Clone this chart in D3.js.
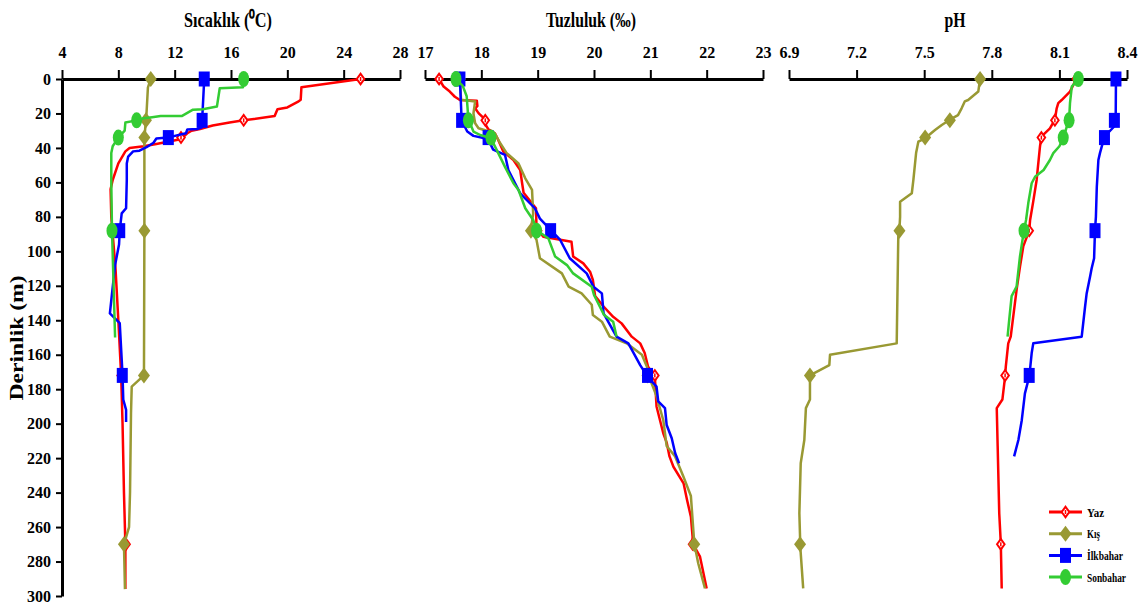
<!DOCTYPE html>
<html>
<head>
<meta charset="utf-8">
<script src="https://cdn.jsdelivr.net/npm/d3@7"></script>
<style>
  html, body { margin: 0; padding: 0; background: #fff; }
  svg { display: block; }
  text { font-family: "Liberation Serif", "Times New Roman", serif; font-weight: bold; fill: #000; }
</style>
</head>
<body>
<svg id="chart" width="1146" height="608"></svg>
<script>
// Depth profiles: each point is [depth (m), value]
const depthTicks = [0, 20, 40, 60, 80, 100, 120, 140, 160, 180, 200, 220, 240, 260, 280, 300];
const tempTicks = [4, 8, 12, 16, 20, 24, 28];
const salTicks = [17, 18, 19, 20, 21, 22, 23];
const phTicks = [6.9, 7.2, 7.5, 7.8, 8.1, 8.4];
const seasons = ["Yaz", "Kış", "İlkbahar", "Sonbahar"];
const sampleDepths = [0, 24, 34, 88, 172, 270];

// Temperature (°C)
const tempYaz = [[0,25.2],[4.8,21.0],[12,20.95],[13,20.8],[16.5,20.0],[17.5,19.3],[21.5,19.1],[24,16.9],[25.3,15.9],[27,14.7],[29,13.8],[30,13.2],[31.5,12.9],[35,12.4],[37.7,10.7],[39,9.8],[40,8.8],[42,8.5],[49,8.0],[58.6,7.6],[64,7.45],[80,7.5],[110,7.8],[140,8.0],[172,8.2],[200,8.3],[240,8.4],[270,8.5],[296,8.5]];
const tempKis = [[0,10.3],[5,10.1],[20,10.0],[24,9.96],[34,9.85],[88,9.85],[172,9.82],[178.5,8.95],[194,8.9],[240,8.83],[260,8.76],[270,8.4],[296,8.47]];
const tempIlkbahar = [[0,14.1],[24,13.95],[28,13.95],[29,13.6],[29.3,12.9],[31.5,12.8],[34,11.5],[34.5,10.7],[37,10.5],[39.6,10.0],[41.6,9.5],[42,9.05],[45,8.7],[49,8.6],[58.6,8.6],[75,8.55],[78,8.24],[88,8.1],[96,8.05],[108,7.77],[136,7.4],[141.6,8.1],[172,8.3],[186,8.35],[192,8.55],[199,8.55]];
const tempSonbahar = [[0,16.9],[4.8,16.85],[5.4,15.2],[16,15.0],[17.5,14.0],[17.8,13.3],[21.5,12.5],[21.5,11.0],[22.2,10.4],[22.8,9.8],[24,9.3],[25.3,8.5],[30,8.45],[34,8.0],[36.5,7.8],[39,7.6],[43,7.5],[60,7.5],[88,7.55],[150,7.77]];
const tempYazMarks = [25.2, 16.9, 12.45, 7.65, 8.2, 8.55];
const tempKisMarks = [10.3, 9.96, 9.85, 9.85, 9.82, 8.4];
const tempIlkbaharMarks = [14.1, 13.95, 11.55, 8.1, 8.28];
const tempSonbaharMarks = [16.9, 9.3, 8.0, 7.55];

// Salinity (‰)
const salYaz = [[0,17.25],[4.4,17.33],[7.3,17.44],[10.3,17.53],[12.2,17.62],[12.6,17.92],[15.7,17.93],[17,17.89],[19.8,17.95],[23.6,18.07],[26.7,18.08],[29,18.12],[31.5,18.24],[35.4,18.3],[42,18.39],[47,18.57],[52.8,18.69],[59.6,18.72],[66,18.75],[75,18.97],[86.5,18.98],[91.5,19.1],[94.4,19.6],[103,19.63],[107,19.81],[111.8,19.93],[116.6,19.98],[126,20.02],[132,20.17],[138,20.34],[141.8,20.49],[149.5,20.67],[153.4,20.82],[159,20.9],[167,20.96],[172.7,21.08],[190,21.11],[205.6,21.23],[211,21.29],[219,21.34],[225,21.41],[234.6,21.59],[244,21.65],[254,21.72],[265.6,21.75],[269.5,21.75],[277,21.88],[295.6,22.0]];
const salKis = [[0,17.62],[12,17.64],[13,17.89],[20,17.86],[25.7,17.89],[28.6,17.95],[31.5,18.24],[37,18.33],[43,18.45],[49,18.66],[57.6,18.78],[64.4,18.9],[78,18.92],[87.6,18.88],[93.4,18.98],[104,19.04],[112.8,19.43],[120.5,19.55],[124.4,19.78],[131,19.96],[137,19.98],[140.8,20.14],[149.5,20.28],[153.4,20.58],[160,20.85],[167,20.94],[174.7,21.0],[184,21.11],[198,21.23],[213,21.29],[219,21.44],[231,21.59],[242,21.72],[269.5,21.78],[281,21.85],[295.6,21.97]];
const salIlkbahar = [[0,17.62],[24,17.65],[30.5,17.75],[33,17.86],[34,18.0],[35,18.12],[41,18.21],[44,18.42],[52.8,18.48],[58.6,18.57],[66.3,18.69],[75,18.95],[81,19.04],[87.6,19.23],[93.4,19.4],[104,19.57],[112.8,19.87],[120.5,19.99],[124.4,20.14],[136,20.17],[149.5,20.4],[153.4,20.61],[166,20.82],[172.7,20.95],[178.5,21.11],[187,21.14],[191,21.26],[200.8,21.29],[208.5,21.38],[217,21.44],[223,21.51]];
const salSonbahar = [[0,17.55],[4,17.67],[10,17.74],[23.4,17.77],[30.5,17.86],[32.5,17.98],[34.4,18.17],[41,18.27],[51,18.42],[60.5,18.57],[64.4,18.66],[75,18.78],[81.8,18.92],[87.6,18.98],[92.5,19.19],[103,19.31],[108,19.52],[112.8,19.63],[120.5,19.96],[125.3,20.0],[137,20.18],[140.8,20.34],[149.5,20.4]];
const salYazMarks = [17.25, 18.07, 18.18, 19.0, 21.08, 21.75];
const salKisMarks = [17.62, 17.78, 18.15, 18.88, 20.95, 21.78];
const salIlkbaharMarks = [17.62, 17.65, 18.12, 19.23, 20.95];
const salSonbaharMarks = [17.55, 17.77, 18.17, 18.98];

// pH
const phYaz = [[0,8.175],[7.3,8.147],[12.2,8.11],[14,8.095],[17,8.088],[23.6,8.08],[28.6,8.058],[33.4,8.02],[39,8.014],[58.6,7.999],[71,7.984],[81.8,7.97],[88,7.966],[97,7.94],[109,7.925],[122.4,7.91],[149.5,7.884],[153.4,7.873],[167,7.862],[172.7,7.859],[186,7.847],[191,7.822],[213,7.826],[252,7.833],[269.5,7.84],[295.6,7.844]];
const phKis = [[0,7.748],[7.3,7.74],[12.2,7.695],[13,7.68],[17,7.666],[21,7.65],[23.6,7.614],[26.7,7.578],[29.6,7.548],[34.4,7.504],[36.4,7.474],[43,7.464],[58.6,7.452],[66.3,7.445],[71.2,7.393],[80,7.393],[87.6,7.39],[91.5,7.385],[153.4,7.378],[160,7.082],[166,7.079],[172,6.993],[186,6.993],[191,6.975],[209.5,6.968],[223,6.952],[252,6.946],[265.6,6.949],[269.5,6.949],[295.6,6.963]];
const phIlkbahar = [[0,8.351],[20,8.35],[23.6,8.344],[28,8.34],[33.4,8.30],[43,8.28],[47,8.273],[62.5,8.266],[80,8.262],[87.6,8.258],[104,8.254],[110,8.243],[114.7,8.236],[124.4,8.221],[132,8.214],[149.5,8.199],[153.4,7.984],[159,7.977],[168,7.97],[172.7,7.966],[182.4,7.947],[198,7.933],[209.5,7.918],[219,7.899]];
const phSonbahar = [[0,8.184],[4.4,8.155],[14,8.147],[23.6,8.143],[28,8.132],[34.4,8.117],[39,8.1],[43,8.073],[47,8.058],[52.8,8.03],[56.7,7.992],[60.5,7.977],[72,7.962],[81.8,7.952],[87.6,7.943],[103,7.925],[120.5,7.91],[126,7.888],[140,7.877],[149.5,7.87]];
const phYazMarks = [8.175, 8.08, 8.02, 7.966, 7.859, 7.84];
const phKisMarks = [7.748, 7.614, 7.504, 7.39, 6.993, 6.949];
const phIlkbaharMarks = [8.351, 8.344, 8.30, 8.258, 7.966];
const phSonbaharMarks = [8.184, 8.143, 8.117, 7.943];

const colors = { "Yaz": "#ff0000", "Kış": "#999933", "İlkbahar": "#0000ff", "Sonbahar": "#33cc33" };

const svg = d3.select("#chart");

const y = d3.scaleLinear().domain([0, 300]).range([79, 596]);

const panels = [
  { title: "Sıcaklık (⁰C)", titleLen: 88, domain: [4, 28], range: [62, 400], ticks: tempTicks, fmt: d3.format("d"),
    lines: [tempYaz, tempKis, tempIlkbahar, tempSonbahar],
    marks: [tempYazMarks, tempKisMarks, tempIlkbaharMarks, tempSonbaharMarks] },
  { title: "Tuzluluk (‰)", titleLen: 90, domain: [17, 23], range: [425, 763], ticks: salTicks, fmt: d3.format("d"),
    lines: [salYaz, salKis, salIlkbahar, salSonbahar],
    marks: [salYazMarks, salKisMarks, salIlkbaharMarks, salSonbaharMarks] },
  { title: "pH", titleLen: 21, domain: [6.9, 8.4], range: [789, 1127], ticks: phTicks, fmt: d3.format(".1f"),
    lines: [phYaz, phKis, phIlkbahar, phSonbahar],
    marks: [phYazMarks, phKisMarks, phIlkbaharMarks, phSonbaharMarks] }
];

// Marker shapes, centred on (0,0)
const MW = 12, MH = 16;
function drawMarker(g, season) {
  const c = colors[season];
  if (season === "Yaz") {
    g.append("path").attr("d", `M0,${-MH/2+1}L${MW/2-1},0L0,${MH/2-1}L${-MW/2+1},0Z`).attr("fill", c);
    g.append("path").attr("d", `M0,${-MH/4.5}L${MW/4.5},0L0,${MH/4.5}L${-MW/4.5},0Z`).attr("fill", "#fff");
    g.append("rect").attr("x", -0.75).attr("y", -2).attr("width", 1.5).attr("height", 4).attr("fill", c);
  } else if (season === "Kış") {
    g.append("path").attr("d", `M0,${-MH/2}L${MW/2},0L0,${MH/2}L${-MW/2},0Z`).attr("fill", c);
  } else if (season === "İlkbahar") {
    g.append("rect").attr("x", -MW/2 + 0.5).attr("y", -MH/2 + 0.5).attr("width", MW - 1).attr("height", MH - 1).attr("fill", c);
  } else {
    g.append("ellipse").attr("rx", MW/2 - 0.5).attr("ry", MH/2).attr("fill", c);
  }
}

panels.forEach(p => {
  const x = d3.scaleLinear().domain(p.domain).range(p.range);
  const g = svg.append("g");

  // Top axis
  const axis = d3.axisTop(x).tickValues(p.ticks).tickFormat(p.fmt).tickSize(9).tickSizeOuter(0).tickPadding(12);
  const ax = g.append("g").attr("transform", "translate(0,79)").call(axis);
  ax.select(".domain").attr("stroke", "#000").attr("stroke-width", 3);
  ax.selectAll(".tick line").attr("stroke", "#000").attr("stroke-width", 2);
  ax.selectAll(".tick text").attr("font-size", 16).attr("font-family", null).attr("fill", "#000");

  // Panel title
  g.append("text")
    .attr("x", (p.range[0] + p.range[1]) / 2 - 3)
    .attr("y", 27)
    .attr("text-anchor", "middle")
    .attr("font-size", 21)
    .attr("textLength", p.titleLen)
    .attr("lengthAdjust", "spacingAndGlyphs")
    .text(p.title);

  const line = d3.line().x(d => x(d[1])).y(d => y(d[0]));

  seasons.forEach((s, i) => {
    g.append("path")
      .datum(p.lines[i])
      .attr("d", line)
      .attr("fill", "none")
      .attr("stroke", colors[s])
      .attr("stroke-width", 2.5)
      .attr("stroke-linejoin", "round");
    p.marks[i].forEach((v, k) => {
      const mg = g.append("g").attr("transform", `translate(${x(v)},${y(sampleDepths[k])})`);
      drawMarker(mg, s);
    });
  });
});

// Depth axis
const yAxis = d3.axisLeft(y).tickValues(depthTicks).tickFormat(d3.format("d")).tickSize(6).tickSizeOuter(0).tickPadding(5);
const yg = svg.append("g").attr("transform", "translate(62,0)").call(yAxis);
yg.select(".domain").attr("stroke", "#000").attr("stroke-width", 3);
yg.selectAll(".tick line").attr("stroke", "#000").attr("stroke-width", 2);
yg.selectAll(".tick text").attr("font-size", 16).attr("font-family", null).attr("fill", "#000");

svg.append("text")
  .attr("transform", "translate(23,338) rotate(-90)")
  .attr("text-anchor", "middle")
  .attr("font-size", 18)
  .attr("textLength", 125)
  .attr("lengthAdjust", "spacingAndGlyphs")
  .text("Derinlik (m)");

// Legend
const legendLens = [17, 13, 36, 39];
const legend = svg.append("g");
seasons.forEach((s, i) => {
  const cy = 512 + i * 21.7;
  const lg = legend.append("g");
  lg.append("line").attr("x1", 1049).attr("x2", 1082).attr("y1", cy).attr("y2", cy)
    .attr("stroke", colors[s]).attr("stroke-width", 3);
  drawMarker(lg.append("g").attr("transform", `translate(1065.5,${cy})`), s);
  lg.append("text")
    .attr("x", 1087).attr("y", cy + 4.5)
    .attr("font-size", 13.5)
    .attr("textLength", legendLens[i])
    .attr("lengthAdjust", "spacingAndGlyphs")
    .text(s);
});
</script>
</body>
</html>
